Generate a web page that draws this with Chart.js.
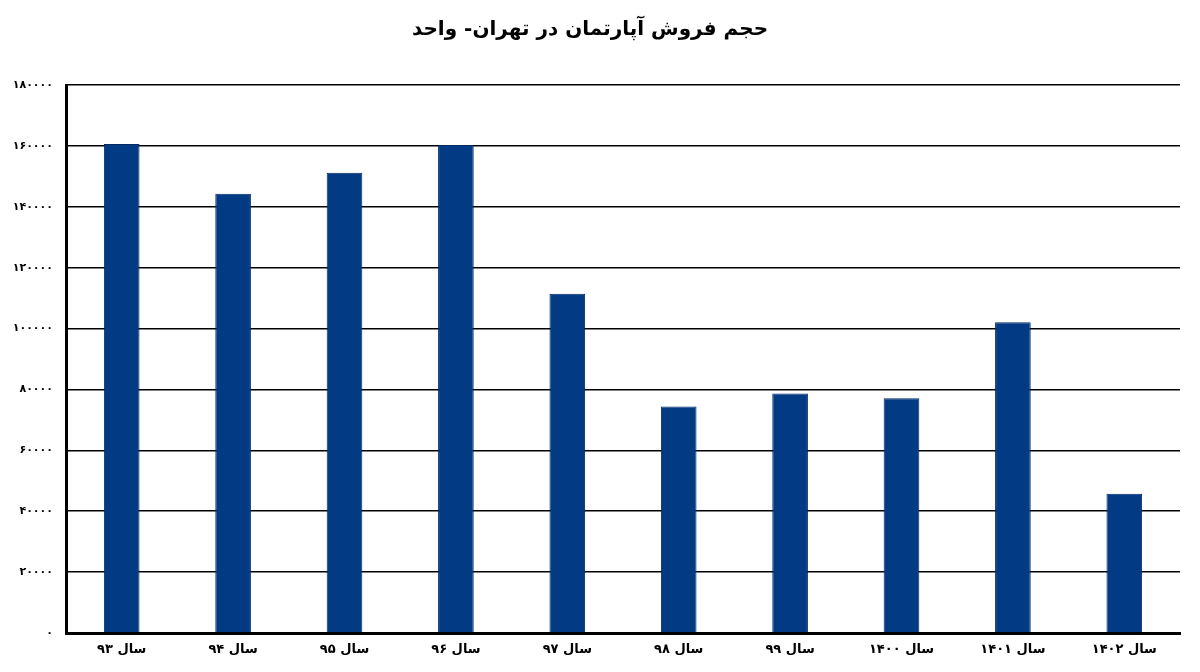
<!DOCTYPE html>
<html lang="fa">
    <head>
        <meta charset="utf-8" />
        <script src="https://cdn.jsdelivr.net/npm/chart.js@4.4.1/dist/chart.umd.min.js"></script>
        <title>حجم فروش آپارتمان در تهران</title>
        <style>
            html, body { margin: 0; padding: 0; background: #ffffff; }
        </style>
    </head>
    <body>
        <canvas id="ventas" width="1200" height="672"></canvas>
        <script>
            // categorias (años persas) y valores
            const sal = ["سال ۹۳", "سال ۹۴", "سال ۹۵", "سال ۹۶", "سال ۹۷", "سال ۹۸", "سال ۹۹", "سال ۱۴۰۰", "سال ۱۴۰۱", "سال ۱۴۰۲"];
            const hajm = [160600, 144300, 151200, 160300, 111400, 74400, 78700, 77100, 102100, 45700];
            const yMax = 180000;
            const yPaso = 20000;
            const titulo = "حجم فروش آپارتمان در تهران- واحد";

            const fuente = "'DejaVu Sans', sans-serif";
            const digitos = "۰۱۲۳۴۵۶۷۸۹";
            function persa(n) {
                return String(n).replace(/[0-9]/g, d => digitos[+d]);
            }

            new Chart(document.getElementById("ventas").getContext("2d"), {
                type: "bar",
                data: {
                    labels: sal,
                    datasets: [{
                        label: "حجم فروش",
                        data: hajm,
                        backgroundColor: "#023a84",
                        borderColor: "#012a63",
                        borderWidth: 1,
                        categoryPercentage: 1,
                        barPercentage: 0.32
                    }]
                },
                options: {
                    responsive: false,
                    animation: false,
                    layout: { padding: { left: 0, right: 20, top: 0, bottom: 0 } },
                    scales: {
                        x: {
                            afterFit: function (scale) { scale.height = 39; },
                            grid: { display: false },
                            border: { display: true, color: "#000000", width: 3 },
                            ticks: {
                                color: "#000000",
                                padding: 1,
                                font: { family: fuente, size: 13, weight: "bold" }
                            }
                        },
                        y: {
                            min: 0,
                            max: yMax,
                            afterFit: function (scale) { scale.width = 66; },
                            grid: { color: "#000000", lineWidth: 1.5, drawTicks: false },
                            border: { display: true, color: "#000000", width: 3 },
                            ticks: {
                                stepSize: yPaso,
                                color: "#000000",
                                padding: 13,
                                font: { family: fuente, size: 11, weight: "bold" },
                                callback: function (v) { return persa(v); }
                            }
                        }
                    },
                    plugins: {
                        legend: { display: false },
                        tooltip: { enabled: false },
                        title: {
                            display: true,
                            text: titulo,
                            color: "#000000",
                            padding: { top: 18, bottom: 43 },
                            font: { family: fuente, size: 20, weight: "bold" }
                        }
                    }
                }
            });
        </script>
    </body>
</html>
